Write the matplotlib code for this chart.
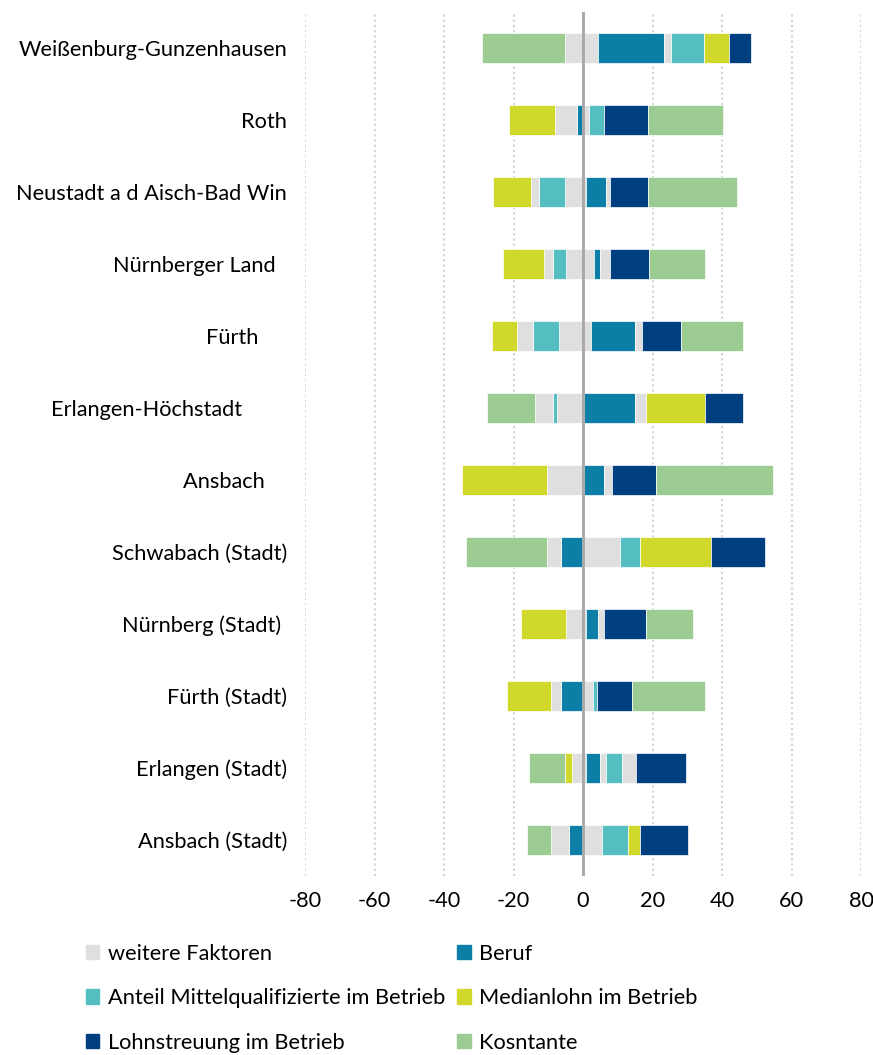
import numpy as np
import matplotlib.pyplot as plt
from matplotlib.patches import Patch

plt.rcParams['font.family'] = ['Lato', 'DejaVu Sans']
plt.rcParams['axes.unicode_minus'] = False

# Kreise von oben nach unten
kreise = ["Weißenburg-Gunzenhausen", "Roth", "Neustadt a d Aisch-Bad Win",
          "Nürnberger Land  ", "Fürth     ", "Erlangen-Höchstadt        ",
          "Ansbach    ", "Schwabach (Stadt)", "Nürnberg (Stadt) ",
          "Fürth (Stadt)", "Erlangen (Stadt)", "Ansbach (Stadt)"]

# Beiträge in Stapelreihenfolge (weitere Faktoren in mehreren Teilen)
weitere_1 = [4.4, -0.4, 0.9, 3.1, 2.2, 0.3, 0.4, -0.2, 0.9, -0.3, 0.9, -0.2]
beruf = [18.8, -1.4, 5.8, 1.7, 12.9, 14.8, 5.6, -6.1, 3.4, -6.0, 4.0, -3.8]
weitere_2 = [2.2, 1.6, -5.3, -4.8, -7.0, -7.6, 2.3, 10.6, 1.8, 2.8, 1.8, 5.6]
anteil_mq = [9.3, 4.5, -7.4, -3.8, -7.3, -1.0, 0.0, 5.8, 0.0, 1.1, 4.4, 7.3]
weitere_3 = [-5.3, -6.4, -2.4, -2.5, -4.8, 3.0, -10.5, -4.2, -4.8, -3.0, -3.1, -5.3]
medianlohn = [7.3, -13.0, -10.7, -11.8, -7.2, 17.0, -24.4, 20.5, -13.1, -12.5, -2.2, 3.5]
weitere_4 = [0.0, 0.0, 1.0, 2.9, 1.9, -5.3, 0.0, 0.0, 0.0, 0.0, 4.1, 0.0]
lohnstreuung = [6.3, 12.5, 10.9, 11.3, 11.3, 10.9, 12.6, 15.4, 11.9, 10.1, 14.3, 13.7]
konstante = [-23.8, 21.7, 25.7, 16.0, 17.7, -13.6, 33.7, -23.2, 13.7, 21.1, -10.2, -6.8]

c_weitere = '#DFDFDF'
c_beruf = '#0C7FA7'
c_anteil = '#55BEC1'
c_median = '#D0D82C'
c_lohn = '#003F7F'
c_konst = '#9CCC91'

reihen = [(weitere_1, c_weitere), (beruf, c_beruf), (weitere_2, c_weitere),
          (anteil_mq, c_anteil), (weitere_3, c_weitere), (medianlohn, c_median),
          (weitere_4, c_weitere), (lohnstreuung, c_lohn), (konstante, c_konst)]

fs = 15.7

fig = plt.figure(figsize=(8.73, 10.55), dpi=100)
ax = fig.add_axes([305 / 873, 1 - 876 / 1055, 556 / 873, 864 / 1055])

y = np.arange(len(kreise))
pos_cum = np.zeros(len(kreise))
neg_cum = np.zeros(len(kreise))
for werte, farbe in reihen:
    werte = np.array(werte)
    links = np.where(werte >= 0, pos_cum, neg_cum)
    ax.barh(y, werte, left=links, height=0.42, color=farbe,
            edgecolor='white', linewidth=0.5, zorder=2)
    pos_cum += np.clip(werte, 0, None)
    neg_cum += np.clip(werte, None, 0)

ax.axvline(0, color='#A6A6A6', linewidth=2, zorder=3)

ax.set_xlim(-80, 80)
ax.set_ylim(len(kreise) - 0.5, -0.5)
ax.set_xticks(np.arange(-80, 81, 20))
ax.set_yticks(y)
ax.set_yticklabels(kreise)
ax.tick_params(axis='both', length=0, labelsize=fs, colors='#000000')
ax.tick_params(axis='y', pad=13)
ax.tick_params(axis='x', pad=11)
ax.grid(axis='x', linestyle=(0, (1, 1.5)), color='#D4D4D4', linewidth=1.5, zorder=0)
ax.set_axisbelow(True)
for s in ax.spines.values():
    s.set_visible(False)

# Legende zeilenweise wie im Original (matplotlib füllt spaltenweise)
handles = [Patch(color=c_weitere), Patch(color=c_anteil), Patch(color=c_lohn),
           Patch(color=c_beruf), Patch(color=c_median), Patch(color=c_konst)]
labels = ["weitere Faktoren", "Anteil Mittelqualifizierte im Betrieb",
          "Lohnstreuung im Betrieb", "Beruf", "Medianlohn im Betrieb", "Kosntante"]
fig.legend(handles, labels, ncol=2, loc='upper left',
           bbox_to_anchor=(77 / 873, 1 - 935 / 1055), frameon=False,
           fontsize=fs, handlelength=0.62, handleheight=0.62, handletextpad=0.4,
           labelspacing=1.12, columnspacing=0.55, borderaxespad=0)

fig.savefig('out.png', dpi=100)
